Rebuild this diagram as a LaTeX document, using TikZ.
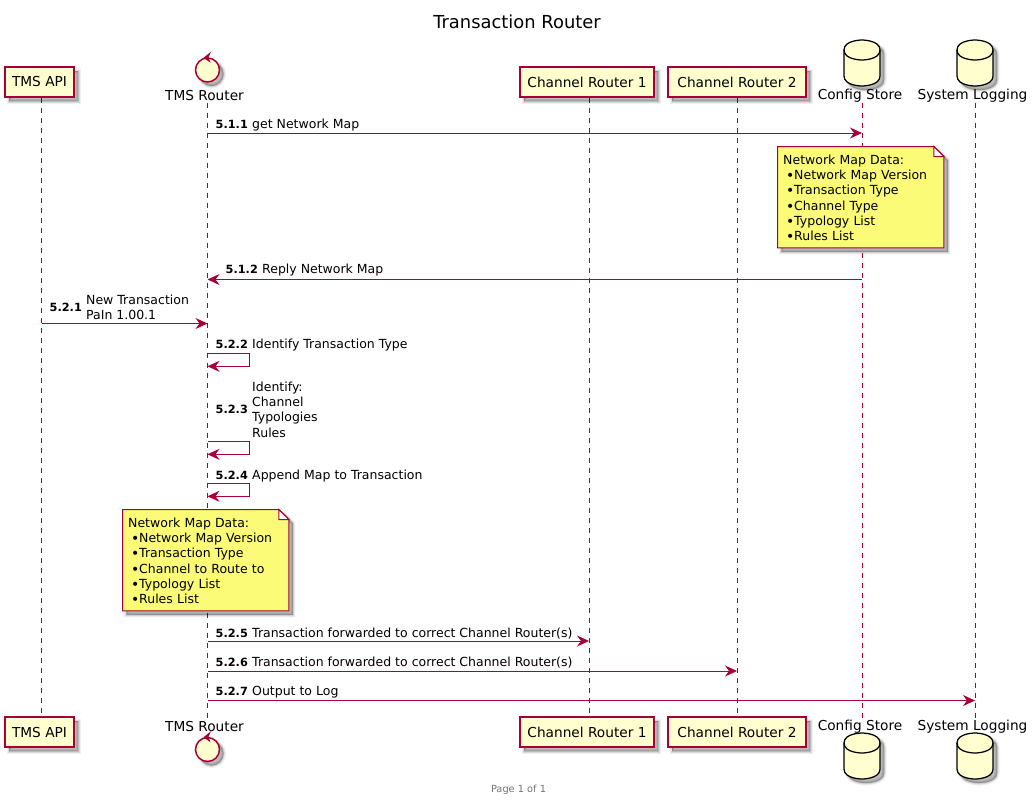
\documentclass[tikz,border=0pt]{standalone}
\usepackage{fontspec}
\setmainfont{DejaVu Sans}
\usetikzlibrary{arrows.meta,backgrounds}

\definecolor{umlline}{HTML}{A80036}
\definecolor{umlfill}{HTML}{FEFECE}
\definecolor{umlnote}{HTML}{FBFB77}

\newcommand{\notebul}{\hspace*{3pt}\makebox[8pt][l]{\raisebox{-1pt}{\fontsize{14}{15}\selectfont\textbullet}}}
\newcommand{\numlab}[2][36.5pt]{\makebox[#1][l]{\fontsize{11.3}{15}\selectfont\bfseries #2}}

\tikzset{
  softshadow/.style={
    preaction={draw=black,fill=black,draw opacity=.06,fill opacity=.06,line width=5pt,transform canvas={shift={(4pt,-4pt)}}},
    preaction={draw=black,fill=black,draw opacity=.09,fill opacity=.09,line width=3pt,transform canvas={shift={(4pt,-4pt)}}},
    preaction={draw=black,fill=black,draw opacity=.14,fill opacity=.14,line width=1pt,transform canvas={shift={(4pt,-4pt)}}}},
  partbox/.style={draw=umlline,fill=umlfill,line width=1.1pt,softshadow,minimum height=30pt,inner sep=0pt,font=\fontsize{13.7}{16}\selectfont},
  ctrlcirc/.style={circle,draw=umlline,fill=umlfill,line width=1.5pt,softshadow,minimum size=24pt,inner sep=0pt},
  dbnode/.style={minimum width=36pt,minimum height=46pt,inner sep=0pt,outer sep=0pt},
  dbshape/.style={draw=black,fill=umlfill,line width=1.25pt,softshadow},
  partlab/.style={inner sep=0pt,minimum height=14pt,font=\fontsize{13.7}{16}\selectfont},
  lifeline/.style={draw=umlline,line width=1pt,dash pattern=on 5pt off 5pt},
  msg/.style={draw=umlline,line width=1pt,-{Stealth[length=12pt,width=11pt,inset=4pt,fill=umlline]}},
  msglab/.style={anchor=west,inner sep=0pt,align=left,font=\fontsize{12.5}{15.3}\selectfont},
  notetxt/.style={anchor=north west,inner sep=0pt,align=left,text width=166pt,minimum height=103pt,font=\fontsize{12.5}{15.2}\selectfont},
  notebg/.style={draw=umlline,fill=umlnote,line width=1pt,softshadow},
  notefold/.style={draw=umlline,fill=white,line width=1pt}
}

\begin{document}
\begin{tikzpicture}[x=1pt,y=-1pt]
  \useasboundingbox (0,0) rectangle (1032,801);

  % title and footer
  \node[inner sep=0pt,font=\fontsize{17.9}{20}\selectfont] (title) at (517,22) {Transaction Router};
  \node[inner sep=0pt,text=black!55,font=\fontsize{9.8}{12}\selectfont] (footer) at (518.5,790) {Page 1 of 1};

  % heads
  \node[partbox,minimum width=69pt] (api) at (39.5,82) {TMS API};
  \node[ctrlcirc] (router) at (207.5,70) {};
  \node[partlab] (routerlab) at (204.5,95.5) {TMS Router};
  \node[partbox,minimum width=134pt] (chone) at (587,82) {Channel Router 1};
  \node[partbox,minimum width=138pt] (chtwo) at (737,82) {Channel Router 2};
  \node[dbnode] (cfg) at (862,63) {};
  \node[partlab] (cfglab) at (860,95.5) {Config Store};
  \node[dbnode] (sys) at (975,63) {};
  \node[partlab] (syslab) at (972.5,95.5) {System Logging};

  % feet
  \node[partbox,minimum width=69pt] (apifoot) at (39.5,732) {TMS API};
  \node[ctrlcirc] (routerfoot) at (207.5,749.5) {};
  \node[partlab] (routerfootlab) at (204.5,726.5) {TMS Router};
  \node[partbox,minimum width=134pt] (chonefoot) at (587,732) {Channel Router 1};
  \node[partbox,minimum width=138pt] (chtwofoot) at (737,732) {Channel Router 2};
  \node[dbnode] (cfgfoot) at (862,756) {};
  \node[partlab] (cfgfootlab) at (860,726.5) {Config Store};
  \node[dbnode] (sysfoot) at (975,756) {};
  \node[partlab] (sysfootlab) at (972.5,726.5) {System Logging};

  % control arrow tips
  \foreach \ctrl in {router,routerfoot} {
    \fill[umlline] ([shift={(-4,0.5)}]\ctrl.north) -- ++(7.5,-6) -- ++(-2.5,5.5) -- ++(2,5.5) -- cycle;
  }

  % rows and columns
  \coordinate (apix) at (41.5,0);
  \coordinate (chonex) at (589,0);
  \coordinate (ra) at (0,133);
  \coordinate (rb) at (0,279.5);
  \coordinate (rc) at (0,323.5);
  \coordinate (rd) at (0,353.3);
  \coordinate (re) at (0,441.3);
  \coordinate (rf) at (0,483.3);
  \coordinate (rg) at (0,641);
  \coordinate (rh) at (0,671);
  \coordinate (ri) at (0,700.5);

  \begin{scope}[on background layer]
    % lifelines
    \draw[lifeline] (api.south -| apix) -- (apifoot.north -| apix);
    \draw[lifeline] (routerlab.south -| router) -- (routerfootlab.north -| router);
    \draw[lifeline] (chone.south -| chonex) -- (chonefoot.north -| chonex);
    \draw[lifeline] (chtwo) -- (chtwofoot);
    \draw[lifeline] (cfglab.south -| cfg) -- (cfgfootlab.north -| cfg);
    \draw[lifeline] (syslab.south -| sys) -- (sysfootlab.north -| sys);

    % cylinders
    \foreach \db in {cfg,sys,cfgfoot,sysfoot} {
      \draw[dbshape] ([yshift=-10pt]\db.north west) .. controls (\db.north west) and (\db.north) .. (\db.north)
        .. controls (\db.north) and (\db.north east) .. ([yshift=-10pt]\db.north east)
        -- ([yshift=10pt]\db.south east) .. controls (\db.south east) and (\db.south) .. (\db.south)
        .. controls (\db.south) and (\db.south west) .. ([yshift=10pt]\db.south west) -- cycle;
      \draw[draw=black,line width=1.25pt] ([yshift=-10pt]\db.north west) .. controls ([yshift=-20pt]\db.north west) and ([yshift=-20pt]\db.north) .. ([yshift=-20pt]\db.north)
        .. controls ([yshift=-20pt]\db.north) and ([yshift=-20pt]\db.north east) .. ([yshift=-10pt]\db.north east);
    }
  \end{scope}

  % messages
  \draw[msg] (router |- ra) -- (cfg |- ra);
  \draw[msg] (cfg |- rb) -- (router |- rb);
  \draw[msg] (apix |- rc) -- (router |- rc);
  \draw[msg] (router |- rd) -- ++(42,0) -- ++(0,13) -- ++(-42,0);
  \draw[msg] (router |- re) -- ++(42,0) -- ++(0,13) -- ++(-42,0);
  \draw[msg] (router |- rf) -- ++(42,0) -- ++(0,13) -- ++(-42,0);
  \draw[msg] (router |- rg) -- (chonex |- rg);
  \draw[msg] (router |- rh) -- (chtwo |- rh);
  \draw[msg] (router |- ri) -- (sys |- ri);

  % message labels
  \node[msglab] (la) at (215.5,125.5) {\numlab{5.1.1}get Network Map};
  \node[msglab] (lb) at (225.5,270) {\numlab{5.1.2}Reply Network Map};
  \node[msglab] (lc) at (49.5,307.5) {\numlab{5.2.1}};
  \node[msglab] (lcc) at (86,307.5) {New Transaction\\PaIn 1.00.1};
  \node[msglab] (ld) at (215.5,345.5) {\numlab{5.2.2}Identify Transaction Type};
  \node[msglab] (le) at (215.5,409.5) {\numlab{5.2.3}};
  \node[msglab] (lee) at (252,409.5) {Identify:\\Channel\\Typologies\\Rules};
  \node[msglab] (lf) at (215.5,476.5) {\numlab{5.2.4}Append Map to Transaction};
  \node[msglab] (lg) at (215.5,633.5) {\numlab{5.2.5}Transaction forwarded to correct Channel Router(s)};
  \node[msglab] (lh) at (215.5,662.5) {\numlab{5.2.6}Transaction forwarded to correct Channel Router(s)};
  \node[msglab] (li) at (215.5,692.5) {\numlab{5.2.7}Output to Log};

  % notes
  \node[notetxt] (notecfg) at (777.5,146.5) {%
    \hspace*{5.5pt}Network Map Data:\\
    \hspace*{5.5pt}\notebul Network Map Version\\
    \hspace*{5.5pt}\notebul Transaction Type\\
    \hspace*{5.5pt}\notebul Channel Type\\
    \hspace*{5.5pt}\notebul Typology List\\
    \hspace*{5.5pt}\notebul Rules List};
  \node[notetxt] (notemap) at (122.5,509.5) {%
    \hspace*{5.5pt}Network Map Data:\\
    \hspace*{5.5pt}\notebul Network Map Version\\
    \hspace*{5.5pt}\notebul Transaction Type\\
    \hspace*{5.5pt}\notebul Channel to Route to\\
    \hspace*{5.5pt}\notebul Typology List\\
    \hspace*{5.5pt}\notebul Rules List};
  \begin{scope}[on background layer]
    \foreach \nn in {notecfg,notemap} {
      \draw[notebg] (\nn.north west) -- ([xshift=-10pt]\nn.north east) -- ([yshift=-10pt]\nn.north east) -- ([yshift=2pt]\nn.south east) -- ([yshift=2pt]\nn.south west) -- cycle;
      \draw[notefold] ([xshift=-10pt]\nn.north east) -- ([yshift=-10pt]\nn.north east) -- ([xshift=-10pt,yshift=-10pt]\nn.north east) -- cycle;
    }
  \end{scope}
\end{tikzpicture}
\end{document}
